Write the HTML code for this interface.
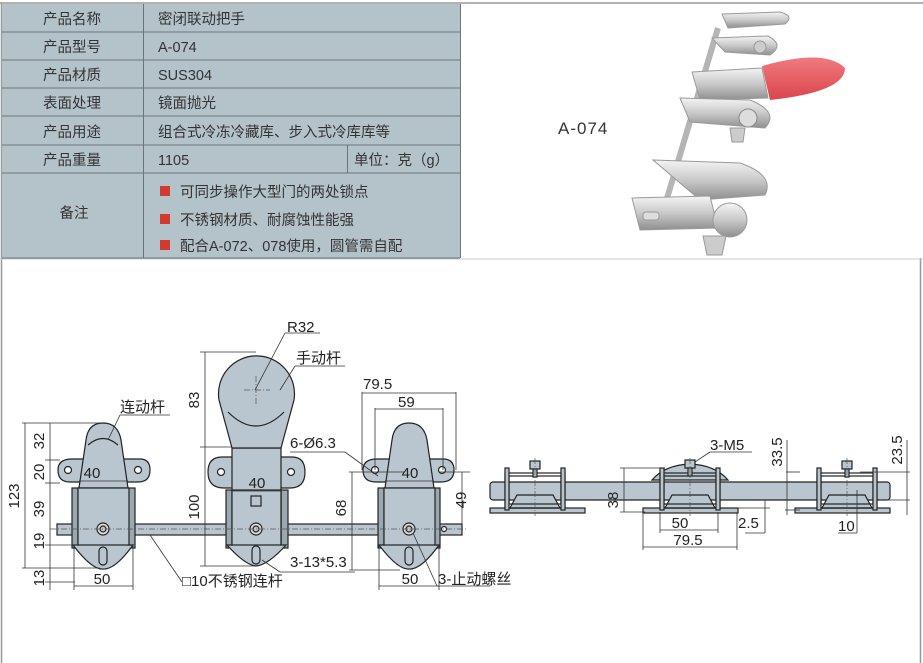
<!DOCTYPE html>
<html><head><meta charset="utf-8"><style>
body{margin:0;background:#fff;width:923px;height:663px;overflow:hidden;font-family:"Liberation Sans","Noto Sans CJK SC",sans-serif;}
svg{position:absolute;left:0;top:0}
</style></head><body>
<svg width="923" height="663" viewBox="0 0 923 663" font-family="Liberation Sans, Noto Sans CJK SC, sans-serif">
<defs>
<linearGradient id="chr" x1="0" y1="0" x2="0" y2="1"><stop offset="0" stop-color="#f4f4f4"/><stop offset="0.5" stop-color="#c9c9c9"/><stop offset="1" stop-color="#8e8e8e"/></linearGradient>
<linearGradient id="red" x1="0" y1="0" x2="0" y2="1"><stop offset="0" stop-color="#f07a7e"/><stop offset="1" stop-color="#d9464c"/></linearGradient>
</defs>
<!-- frame -->
<line x1="0" y1="3" x2="923" y2="3" stroke="#999" stroke-width="1.5"/>
<line x1="1.5" y1="3" x2="1.5" y2="663" stroke="#999" stroke-width="1.5"/>
<line x1="920.5" y1="258" x2="920.5" y2="663" stroke="#999" stroke-width="1.5"/>
<line x1="0" y1="259" x2="923" y2="259" stroke="#ccc" stroke-width="1"/>
<!-- table -->
<rect x="2" y="4" width="458" height="255" fill="#b4c2ca"/>
<g stroke="#6d7479" stroke-width="1">
<line x1="2" y1="32" x2="460" y2="32"/><line x1="2" y1="60" x2="460" y2="60"/>
<line x1="2" y1="88" x2="460" y2="88"/><line x1="2" y1="116" x2="460" y2="116"/>
<line x1="2" y1="145" x2="460" y2="145"/><line x1="2" y1="173" x2="460" y2="173"/>
<line x1="2" y1="258" x2="460" y2="258"/>
<line x1="143.5" y1="4" x2="143.5" y2="258"/><line x1="347.5" y1="145" x2="347.5" y2="173"/>
<line x1="460.5" y1="4" x2="460.5" y2="258"/>
</g>
<g font-size="14.5" fill="#333">
<text x="72" y="24" text-anchor="middle">产品名称</text>
<text x="72" y="52" text-anchor="middle">产品型号</text>
<text x="72" y="80" text-anchor="middle">产品材质</text>
<text x="72" y="108" text-anchor="middle">表面处理</text>
<text x="72" y="137" text-anchor="middle">产品用途</text>
<text x="72" y="165" text-anchor="middle">产品重量</text>
<text x="74" y="218" text-anchor="middle">备注</text>
<text x="158" y="24">密闭联动把手</text>
<text x="158" y="52">A-074</text>
<text x="158" y="80">SUS304</text>
<text x="158" y="108">镜面抛光</text>
<text x="158" y="137">组合式冷冻冷藏库、步入式冷库库等</text>
<text x="158" y="165">1105</text>
<text x="354" y="165">单位：克（g）</text>
<text x="180" y="197">可同步操作大型门的两处锁点</text>
<text x="180" y="225">不锈钢材质、耐腐蚀性能强</text>
<text x="180" y="251">配合A-072、078使用，圆管需自配</text>
</g>
<rect x="160" y="186" width="10" height="10" fill="#d23a30"/>
<rect x="160" y="214" width="10" height="10" fill="#d23a30"/>
<rect x="160" y="240" width="10" height="10" fill="#d23a30"/>
<text x="558" y="134" font-size="17" fill="#333" letter-spacing="1">A-074</text>
<!-- photo -->
<g stroke="#9a9a9a" stroke-width="1">
<line x1="718" y1="28" x2="662" y2="215" stroke="#b5b5b5" stroke-width="6"/>
<path d="M722 14 L780 12 Q795 16 785 24 L728 28 Z" fill="url(#chr)"/>
<path d="M712 38 L768 36 Q785 45 770 55 L725 52 Z" fill="url(#chr)"/>
<circle cx="760" cy="47" r="6" fill="#ccc"/>
<path d="M692 72 L762 68 L768 98 L700 100 Z" fill="url(#chr)"/>
<path d="M762 66 Q825 48 845 68 Q845 92 770 100 Z" fill="url(#red)" stroke="none"/>
<path d="M680 98 L750 100 Q780 112 765 128 L690 122 Z" fill="url(#chr)"/>
<circle cx="748" cy="118" r="9" fill="#ddd" stroke="#888"/>
<path d="M730 128 L745 128 L743 142 L732 142 Z" fill="#ccc"/>
<path d="M653 160 L740 163 Q775 175 765 195 L700 200 Z" fill="url(#chr)"/>
<path d="M632 198 L710 196 L718 228 L640 230 Z" fill="url(#chr)"/>
<rect x="643" y="212" width="16" height="8" rx="3" fill="#ddd"/>
<circle cx="730" cy="220" r="17" fill="url(#chr)"/>
<path d="M703 236 L726 236 L722 255 L707 255 Z" fill="#ccc"/>
</g>
<!-- ===== Left drawing ===== -->
<g fill="#b9c6cf" stroke="#222" stroke-width="1.2">
<rect x="57" y="524" width="405" height="11"/>
<!-- LEFT latch -->
<path d="M58 470 Q58 459 72 459 L140 459 Q150 459 150 470 Q150 482 138 482 L70 482 Q58 482 58 470Z"/>
<rect x="72" y="488" width="7" height="60" fill="#9aa8b1"/><rect x="128" y="488" width="7" height="60" fill="#9aa8b1"/>
<path d="M78 545 L78 488 L128 488 L128 545 L133 545 Q115 570 103 569 Q92 570 73 545Z"/>
<path d="M79 488 L86 440 Q88 423 103 423 Q118 423 121 440 L128 488Z"/>
<rect x="78" y="488" width="51" height="57"/>
<rect x="99" y="547" width="8" height="18" rx="4"/>
<circle cx="103" cy="529" r="6" fill="#ddd"/><circle cx="103" cy="529" r="3"/>
<circle cx="68" cy="470" r="3.5" fill="#fff"/><circle cx="138" cy="470" r="3.5" fill="#fff"/>
<!-- MIDDLE latch -->
<path d="M208 472 Q208 457 222 457 L292 457 Q305 457 305 472 Q305 488 290 488 L224 488 Q208 488 208 472Z"/>
<rect x="226" y="490" width="7" height="58" fill="#9aa8b1"/><rect x="281" y="490" width="7" height="58" fill="#9aa8b1"/>
<path d="M232 448 L232 545 L227 545 Q245 565 256 566 Q268 565 286 545 L281 545 L281 448Z"/>
<path d="M232 448 L219 400 A38 38 0 1 1 294 400 L281 448Z"/>
<rect x="232" y="490" width="49" height="55"/>
<rect x="252" y="546" width="8" height="18" rx="4"/>
<circle cx="256" cy="529" r="6" fill="#ddd"/><circle cx="256" cy="529" r="3"/>
<circle cx="221" cy="472" r="3.5" fill="#fff"/><circle cx="291" cy="472" r="3.5" fill="#fff"/>
<rect x="251" y="496" width="10" height="10" fill="none"/>
<!-- RIGHT latch -->
<path d="M363 470 Q363 459 377 459 L443 459 Q454 459 454 470 Q454 482 441 482 L376 482 Q363 482 363 470Z"/>
<rect x="378" y="488" width="7" height="60" fill="#9aa8b1"/><rect x="433" y="488" width="7" height="60" fill="#9aa8b1"/>
<path d="M384 545 L384 488 L434 488 L434 545 L439 545 Q421 570 409 569 Q398 570 379 545Z"/>
<path d="M385 488 L392 440 Q394 423 409 423 Q424 423 427 440 L434 488Z"/>
<rect x="384" y="488" width="51" height="57"/>
<rect x="405" y="547" width="8" height="18" rx="4"/>
<circle cx="409" cy="529" r="6" fill="#ddd"/><circle cx="409" cy="529" r="3"/>
<circle cx="375" cy="470" r="3.5" fill="#fff"/><circle cx="442" cy="470" r="3.5" fill="#fff"/>
<circle cx="444" cy="529" r="2.5" fill="#fff"/>
</g>
<g fill="none" stroke="#222" stroke-width="1.2">
<path d="M88 445 Q103 432 118 445"/>
<path d="M228 412 Q256 440 284 412"/>
</g>
<g stroke="#555" stroke-width="0.7" stroke-dasharray="6,2,1,2" fill="none">
<line x1="50" y1="529" x2="468" y2="529"/>
<line x1="244" y1="390" x2="270" y2="390"/><line x1="256" y1="376" x2="256" y2="405"/>
</g>
<g stroke="#333" stroke-width="0.8" fill="none">
<line x1="22" y1="423" x2="100" y2="423"/><line x1="45" y1="460" x2="60" y2="460"/>
<line x1="45" y1="483" x2="60" y2="483"/><line x1="45" y1="545" x2="78" y2="545"/>
<line x1="22" y1="568" x2="100" y2="568"/><line x1="45" y1="582" x2="75" y2="582"/>
<line x1="25" y1="423" x2="25" y2="568"/><line x1="50" y1="423" x2="50" y2="590"/>
<line x1="74" y1="545" x2="74" y2="590"/><line x1="133" y1="545" x2="133" y2="590"/><line x1="74" y1="586" x2="133" y2="586"/>
<line x1="79" y1="481" x2="128" y2="481"/>
<line x1="200" y1="352" x2="256" y2="352"/><line x1="200" y1="447" x2="232" y2="447"/><line x1="200" y1="566" x2="256" y2="566"/>
<line x1="205" y1="352" x2="205" y2="566"/>
<line x1="232" y1="491" x2="281" y2="491"/>
<line x1="362" y1="392" x2="362" y2="470"/><line x1="456" y1="392" x2="456" y2="470"/><line x1="362" y1="393" x2="456" y2="393"/>
<line x1="375" y1="408" x2="375" y2="470"/><line x1="443" y1="408" x2="443" y2="470"/><line x1="375" y1="409" x2="443" y2="409"/>
<line x1="385" y1="481" x2="434" y2="481"/>
<line x1="349" y1="472" x2="405" y2="472"/><line x1="349" y1="570" x2="400" y2="570"/><line x1="352" y1="472" x2="352" y2="570"/>
<line x1="440" y1="472" x2="470" y2="472"/><line x1="462" y1="472" x2="462" y2="529"/>
<line x1="379" y1="545" x2="379" y2="590"/><line x1="439" y1="545" x2="439" y2="590"/><line x1="379" y1="586" x2="439" y2="586"/>
<line x1="108" y1="440" x2="120" y2="415"/><line x1="120" y1="415" x2="170" y2="415"/>
<line x1="255" y1="390" x2="285" y2="333"/><line x1="285" y1="333" x2="320" y2="333"/>
<line x1="280" y1="390" x2="295" y2="366"/><line x1="295" y1="366" x2="345" y2="366"/>
<line x1="290" y1="452" x2="345" y2="452"/><line x1="345" y1="452" x2="378" y2="476"/>
<line x1="262" y1="560" x2="280" y2="572"/><line x1="280" y1="572" x2="355" y2="572"/>
<line x1="150" y1="535" x2="182" y2="582"/>
<line x1="413" y1="533" x2="437" y2="586"/><line x1="437" y1="586" x2="490" y2="586"/>
</g>
<g font-size="15" fill="#222">
<text x="120" y="412">连动杆</text>
<text x="287" y="332">R32</text>
<text x="296" y="363">手动杆</text>
<text x="92" y="478" text-anchor="middle">40</text>
<text x="257" y="488" text-anchor="middle">40</text>
<text x="410" y="478" text-anchor="middle">40</text>
<text x="290" y="448">6-Ø6.3</text>
<text x="363" y="389">79.5</text>
<text x="398" y="407">59</text>
<text x="290" y="567">3-13*5.3</text>
<text x="182" y="586">□10不锈钢连杆</text>
<text x="102" y="584" text-anchor="middle">50</text>
<text x="410" y="584" text-anchor="middle">50</text>
<text x="438" y="584">3-止动螺丝</text>
<g text-anchor="middle">
<text transform="translate(19,496) rotate(-90)">123</text>
<text transform="translate(44,441) rotate(-90)">32</text>
<text transform="translate(44,472) rotate(-90)">20</text>
<text transform="translate(44,509) rotate(-90)">39</text>
<text transform="translate(44,541) rotate(-90)">19</text>
<text transform="translate(44,578) rotate(-90)">13</text>
<text transform="translate(199,400) rotate(-90)">83</text>
<text transform="translate(199,507) rotate(-90)">100</text>
<text transform="translate(346,508) rotate(-90)">68</text>
<text transform="translate(466,500) rotate(-90)">49</text>
</g>
</g>
<!-- ===== Right drawing ===== -->
<g fill="#b9c6cf" stroke="#222" stroke-width="1.2">
<rect x="490" y="482" width="400" height="18" rx="3"/>
<rect x="490" y="508" width="95" height="5"/>
<path d="M510 508 L517 495 L553 495 L560 508Z"/>
<rect x="505" y="473" width="60" height="35" fill="none"/>
<rect x="509" y="476" width="52" height="28" fill="none"/>
<rect x="505" y="468" width="4" height="42"/><rect x="561" y="468" width="4" height="42"/>
<rect x="530" y="461" width="10" height="8"/><rect x="533" y="469" width="4" height="8"/>
<path d="M652 480 Q665 465 690 464 Q715 465 728 480Z"/>
<rect x="643" y="508" width="95" height="5"/>
<path d="M665 508 L672 495 L708 495 L715 508Z"/>
<rect x="660" y="473" width="60" height="35" fill="none"/>
<rect x="664" y="476" width="52" height="28" fill="none"/>
<rect x="660" y="468" width="4" height="42"/><rect x="716" y="468" width="4" height="42"/>
<rect x="685" y="460" width="10" height="8"/><rect x="688" y="468" width="4" height="8"/>
<rect x="795" y="508" width="95" height="5"/>
<path d="M822 508 L829 495 L865 495 L872 508Z"/>
<rect x="817" y="473" width="60" height="35" fill="none"/>
<rect x="821" y="476" width="52" height="28" fill="none"/>
<rect x="817" y="468" width="4" height="42"/><rect x="873" y="468" width="4" height="42"/>
<rect x="842" y="461" width="10" height="8"/><rect x="845" y="469" width="4" height="8"/>
</g>
<g stroke="#555" stroke-width="0.7" stroke-dasharray="6,2,1,2">
<line x1="535" y1="458" x2="535" y2="516"/><line x1="690" y1="458" x2="690" y2="516"/><line x1="847" y1="458" x2="847" y2="516"/>
</g>
<g stroke="#333" stroke-width="0.8" fill="none">
<line x1="620" y1="468" x2="665" y2="468"/><line x1="620" y1="512" x2="645" y2="512"/><line x1="624" y1="468" x2="624" y2="512"/>
<line x1="660" y1="512" x2="660" y2="533"/><line x1="718" y1="512" x2="718" y2="533"/><line x1="660" y1="530" x2="718" y2="530"/>
<line x1="643" y1="513" x2="643" y2="550"/><line x1="737" y1="513" x2="737" y2="550"/><line x1="643" y1="547" x2="737" y2="547"/>
<line x1="737" y1="508" x2="770" y2="508"/><line x1="765" y1="500" x2="765" y2="533"/><line x1="745" y1="533" x2="765" y2="533"/>
<line x1="786" y1="472" x2="800" y2="472"/><line x1="785" y1="510" x2="800" y2="510"/><line x1="787" y1="440" x2="787" y2="515"/>
<line x1="860" y1="472" x2="910" y2="472"/><line x1="880" y1="500" x2="910" y2="500"/><line x1="907" y1="440" x2="907" y2="515"/>
<line x1="857" y1="490" x2="857" y2="533"/><line x1="838" y1="533" x2="857" y2="533"/>
<line x1="695" y1="462" x2="710" y2="452"/><line x1="710" y1="452" x2="752" y2="452"/>
</g>
<g font-size="15" fill="#222">
<text x="710" y="450">3-M5</text>
<text x="680" y="528" text-anchor="middle">50</text>
<text x="688" y="545" text-anchor="middle">79.5</text>
<text x="738" y="528">2.5</text>
<text x="838" y="531">10</text>
<g text-anchor="middle">
<text transform="translate(618,500) rotate(-90)">38</text>
<text transform="translate(782,452) rotate(-90)">33.5</text>
<text transform="translate(902,450) rotate(-90)">23.5</text>
</g>
</g>
</svg>
</body></html>
